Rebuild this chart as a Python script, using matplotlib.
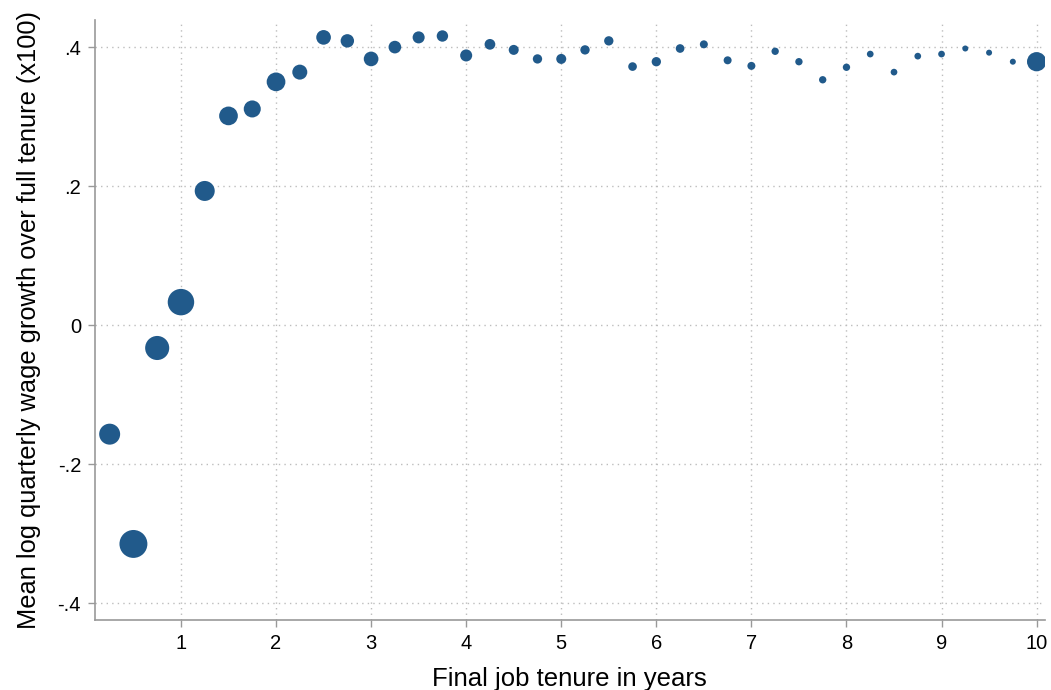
import numpy as np
import matplotlib
matplotlib.use("Agg")
import matplotlib.pyplot as plt

# final job tenure (years) and mean log quarterly wage growth (x100)
tenure = [0.25, 0.5, 0.75, 1.0, 1.25, 1.5, 1.75, 2.0, 2.25, 2.5,
          2.75, 3.0, 3.25, 3.5, 3.75, 4.0, 4.25, 4.5, 4.75, 5.0,
          5.25, 5.5, 5.75, 6.0, 6.25, 6.5, 6.75, 7.0, 7.25, 7.5,
          7.75, 8.0, 8.25, 8.5, 8.75, 9.0, 9.25, 9.5, 9.75, 10.0]
growth = [-0.157, -0.315, -0.033, 0.033, 0.193, 0.301, 0.311, 0.350, 0.364, 0.414,
          0.409, 0.383, 0.400, 0.414, 0.416, 0.388, 0.404, 0.396, 0.383, 0.383,
          0.396, 0.409, 0.372, 0.379, 0.398, 0.404, 0.381, 0.373, 0.394, 0.379,
          0.353, 0.371, 0.390, 0.364, 0.387, 0.390, 0.398, 0.392, 0.379, 0.379]
# relative number of observations (marker weights)
weight = [4.4, 7.8, 5.8, 7.0, 4.0, 3.5, 2.9, 3.5, 2.25, 2.15,
          1.8, 2.15, 1.6, 1.45, 1.3, 1.45, 1.15, 1.0, 0.87, 1.0,
          0.87, 0.87, 0.75, 0.87, 0.75, 0.64, 0.64, 0.64, 0.54, 0.54,
          0.54, 0.54, 0.45, 0.45, 0.45, 0.45, 0.36, 0.36, 0.36, 3.7]

yticks = [-0.4, -0.2, 0, 0.2, 0.4]
ytick_labels = ["-.4", "-.2", "0", ".2", ".4"]
xticks = [1, 2, 3, 4, 5, 6, 7, 8, 9, 10]

plt.rcParams["font.family"] = ["Liberation Sans", "DejaVu Sans"]

fig = plt.figure(figsize=(10.51, 6.90), dpi=100)
ax = fig.add_axes([0.0904, 0.1014, 0.9036, 0.8696])

# marker area in points^2 from weights (px diameter^2 = 100 * weight)
s = np.array(weight) * 100 * 0.72 ** 2
ax.scatter(tenure, growth, s=s, color="#215a8b", edgecolors="none", zorder=3)

ax.set_xlim(0.096, 10.085)
ax.set_ylim(-0.4245, 0.439)
ax.set_xticks(xticks)
ax.set_xticklabels([str(t) for t in xticks])
ax.set_yticks(yticks)
ax.set_yticklabels(ytick_labels)

ax.grid(True, linestyle=(0, (1, 3)), color="#bdbdbd", linewidth=1.0)
ax.set_axisbelow(True)

for side in ["top", "right"]:
    ax.spines[side].set_visible(False)
for side in ["left", "bottom"]:
    ax.spines[side].set_color("#999999")
    ax.spines[side].set_linewidth(1.2)

ax.tick_params(axis="both", colors="#999999", length=5, width=1, labelsize=14.5,
               labelcolor="black", pad=5)

ax.set_xlabel("Final job tenure in years", fontsize=18.5, labelpad=10)
ax.set_ylabel("Mean log quarterly wage growth over full tenure (x100)", fontsize=18.3, labelpad=12)

fig.savefig("out.png", dpi=100)
